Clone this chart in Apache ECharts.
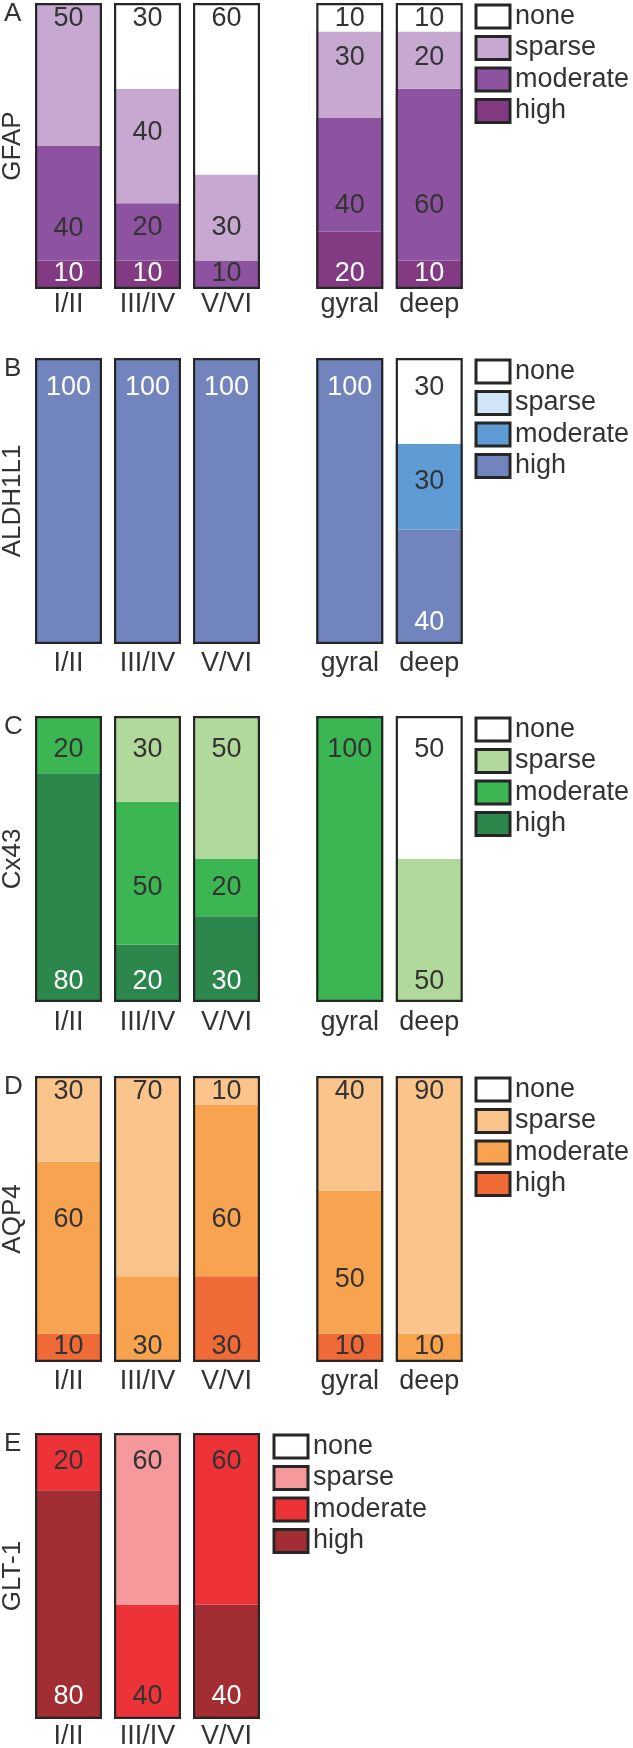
<!DOCTYPE html>
<html>
<head>
<meta charset="utf-8">
<title>Astrocyte marker expression by layer</title>
<script src="https://cdn.jsdelivr.net/npm/echarts@6/dist/echarts.min.js"></script>
<style>
  html, body { margin: 0; padding: 0; background: #fff; }
  #chart { width: 633px; height: 1748px; }
</style>
</head>
<body>
<div id="chart"></div>
<script>
// categories
const layers = ["I/II", "III/IV", "V/VI"];
const depths = ["gyral", "deep"];
const levels = ["none", "sparse", "moderate", "high"];

// % of cells per level, columns: I/II, III/IV, V/VI, gyral, deep
const gfapNone = [0, 30, 60, 10, 10];
const gfapSparse = [50, 40, 30, 30, 20];
const gfapModerate = [40, 20, 10, 40, 60];
const gfapHigh = [10, 10, 0, 20, 10];

const aldhNone = [0, 0, 0, 0, 30];
const aldhSparse = [0, 0, 0, 0, 0];
const aldhModerate = [0, 0, 0, 0, 30];
const aldhHigh = [100, 100, 100, 100, 40];

const cx43None = [0, 0, 0, 0, 50];
const cx43Sparse = [0, 30, 50, 0, 50];
const cx43Moderate = [20, 50, 20, 100, 0];
const cx43High = [80, 20, 30, 0, 0];

const aqp4None = [0, 0, 0, 0, 0];
const aqp4Sparse = [30, 70, 10, 40, 90];
const aqp4Moderate = [60, 30, 60, 50, 10];
const aqp4High = [10, 0, 30, 10, 0];

// GLT-1 only has the cortical layers
const gltNone = [0, 0, 0];
const gltSparse = [0, 60, 0];
const gltModerate = [20, 40, 60];
const gltHigh = [80, 0, 40];

const FONT = "Liberation Sans, Arial, Helvetica, sans-serif";
const TEXT = "#333";
const WHITE = "#fff";
const PLOT_H = 286;
const BAR_W = 67;

// hand placement of in-between labels (px, + = down), as in the figure
const midLabelNudge = {
  "A:I/II:moderate": 25,
  "A:III/IV:sparse": -13,
  "A:III/IV:moderate": -4,
  "A:V/VI:sparse": 10,
  "A:gyral:sparse": -17,
  "A:gyral:moderate": 31,
  "A:deep:sparse": -3,
  "A:deep:moderate": 31,
  "B:deep:moderate": -5,
  "C:III/IV:moderate": 14,
  "D:I/II:moderate": -28,
  "D:V/VI:moderate": 29,
  "D:gyral:moderate": 18
};

const panels = [
  {
    letter: "A", marker: "GFAP", top: 3,
    values: [gfapNone, gfapSparse, gfapModerate, gfapHigh],
    colors: ["#ffffff", "#c6a8d0", "#8d53a0", "#823a82"],
    labelColors: [TEXT, TEXT, TEXT, WHITE],
    insetTop: 2, insetBottom: 1.5, catMargin: 2, legendLeft: 474.5
  },
  {
    letter: "B", marker: "ALDH1L1", top: 358,
    values: [aldhNone, aldhSparse, aldhModerate, aldhHigh],
    colors: ["#ffffff", "#d0e5f6", "#5f9bd4", "#7284be"],
    labelColors: [TEXT, TEXT, TEXT, WHITE],
    insetTop: 16, insetBottom: 8, catMargin: 6, legendLeft: 474.5
  },
  {
    letter: "C", marker: "Cx43", top: 716,
    values: [cx43None, cx43Sparse, cx43Moderate, cx43High],
    colors: ["#ffffff", "#b2d99c", "#3cb553", "#2b874c"],
    labelColors: [TEXT, TEXT, TEXT, WHITE],
    insetTop: 20, insetBottom: 7, catMargin: 7, legendLeft: 474.5
  },
  {
    letter: "D", marker: "AQP4", top: 1076,
    values: [aqp4None, aqp4Sparse, aqp4Moderate, aqp4High],
    colors: ["#ffffff", "#fbc48b", "#f7a34f", "#ef6a37"],
    labelColors: [TEXT, TEXT, TEXT, TEXT],
    insetTop: 2, insetBottom: 2, catMargin: 6, legendLeft: 474.5
  },
  {
    letter: "E", marker: "GLT-1", top: 1433,
    values: [gltNone, gltSparse, gltModerate, gltHigh],
    colors: ["#ffffff", "#f5999c", "#ed3338", "#a22e33"],
    labelColors: [TEXT, TEXT, TEXT, WHITE],
    insetTop: 15, insetBottom: 9, catMargin: 4, legendLeft: 272.5
  }
];

const grid = [];
const xAxis = [];
const yAxis = [];
const series = [];
const legend = [];
const graphic = [];

// stacking bottom -> top
const stackOrder = [3, 2, 1, 0];

panels.forEach((p) => {
  const groups = [{ cats: layers, offset: 0, left: 29, width: 237 }];
  if (p.values[0].length > layers.length) {
    groups.push({ cats: depths, offset: layers.length, left: 310, width: 159 });
  }

  groups.forEach((g, gi) => {
    const idx = grid.length;
    grid.push({ left: g.left, width: g.width, top: p.top, height: PLOT_H, outerBoundsMode: "none" });
    xAxis.push({
      type: "category",
      gridIndex: idx,
      data: g.cats,
      axisLine: { show: false },
      axisTick: { show: false },
      axisLabel: { fontSize: 27, color: TEXT, fontFamily: FONT, margin: p.catMargin }
    });
    yAxis.push({
      type: "value",
      gridIndex: idx,
      min: 0,
      max: 100,
      axisLine: { show: false },
      axisTick: { show: false },
      axisLabel: { show: false },
      splitLine: { show: false },
      name: gi === 0 ? p.marker : "",
      nameLocation: "middle",
      nameRotate: 90,
      nameGap: 3,
      nameTextStyle: { fontSize: 26, color: TEXT, fontFamily: FONT }
    });

    const vals = p.values.map((arr) => arr.slice(g.offset, g.offset + g.cats.length));
    const totals = g.cats.map((c, ci) => vals.reduce((s, arr) => s + arr[ci], 0));

    const labelFor = (li, ci) => {
      if (!vals[li][ci]) return { show: false };
      const filled = stackOrder.filter((k) => vals[k][ci] > 0);
      if (filled[filled.length - 1] === li) return { position: "insideTop", distance: p.insetTop };
      if (filled[0] === li) return { position: "insideBottom", distance: p.insetBottom };
      const dy = midLabelNudge[p.letter + ":" + g.cats[ci] + ":" + levels[li]] || 0;
      return { position: "inside", offset: [0, dy] };
    };

    stackOrder.forEach((li) => {
      series.push({
        name: p.letter + ":" + levels[li],
        type: "bar",
        stack: "s" + idx,
        xAxisIndex: idx,
        yAxisIndex: idx,
        barWidth: BAR_W,
        barGap: "-100%",
        silent: true,
        itemStyle: { color: p.colors[li] },
        label: { show: true, fontSize: 27, fontFamily: FONT, color: p.labelColors[li] },
        data: vals[li].map((v, ci) => ({ value: v, label: labelFor(li, ci) }))
      });
    });

    // frame around each whole bar
    series.push({
      name: "frame" + idx,
      type: "bar",
      xAxisIndex: idx,
      yAxisIndex: idx,
      barWidth: BAR_W,
      barGap: "-100%",
      silent: true,
      z: 5,
      itemStyle: { color: "rgba(0,0,0,0)", borderColor: "#262626", borderWidth: 2.2 },
      data: totals
    });
  });

  legend.push({
    orient: "vertical",
    left: p.legendLeft,
    top: p.top,
    padding: 0,
    itemGap: 4.5,
    itemWidth: 34,
    itemHeight: 23,
    icon: "rect",
    selectedMode: false,
    data: levels.map((l) => p.letter + ":" + l),
    formatter: (n) => n.split(":")[1],
    itemStyle: { borderColor: "#262626", borderWidth: 3 },
    textStyle: { fontSize: 27, color: TEXT, fontFamily: FONT, lineHeight: 26 }
  });

  graphic.push({
    type: "text",
    left: 4,
    top: p.top - 2,
    style: { text: p.letter, font: "26px " + FONT, fill: TEXT }
  });
});

const chart = echarts.init(document.getElementById("chart"), null, { renderer: "canvas" });
chart.setOption({
  animation: false,
  backgroundColor: "#fff",
  grid: grid,
  xAxis: xAxis,
  yAxis: yAxis,
  legend: legend,
  graphic: graphic,
  series: series
});
</script>
</body>
</html>
